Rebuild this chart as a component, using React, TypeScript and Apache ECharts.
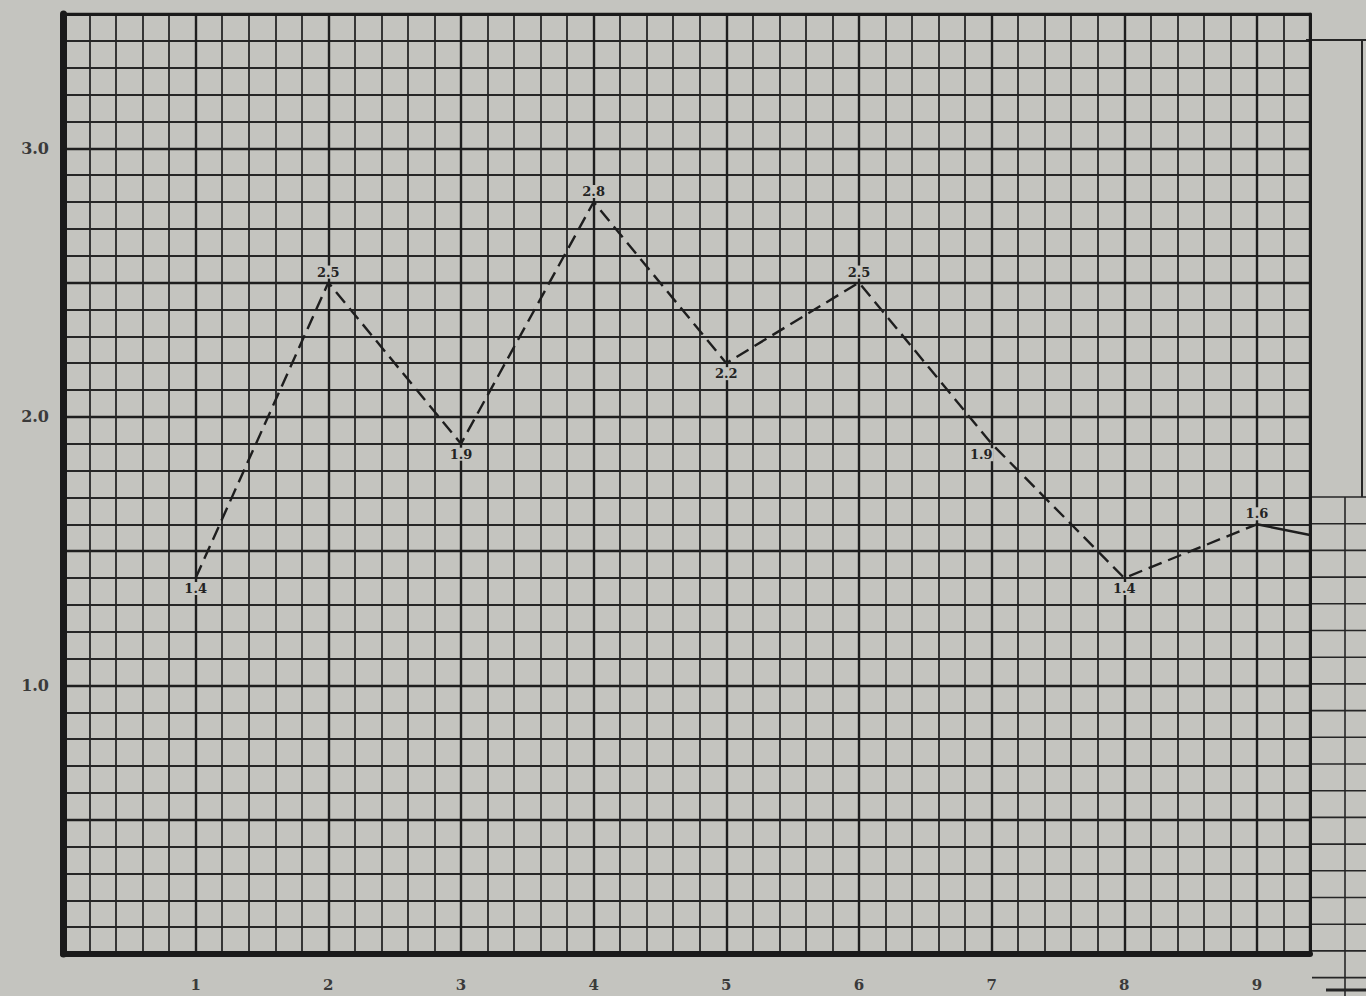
import React, { useEffect, useRef } from "react";
import * as echarts from "echarts";

const xValues = [1, 2, 3, 4, 5, 6, 7, 8, 9];
const yValues = [1.4, 2.5, 1.9, 2.8, 2.2, 2.5, 1.9, 1.4, 1.6];
const pointLabels = ["1.4", "2.5", "1.9", "2.8", "2.2", "2.5", "1.9", "1.4", "1.6"];
const labelSides = ["bottom", "top", "bottom", "top", "bottom", "top", "left", "bottom", "top"];
const tailX = [9, 9.4];
const tailY = [1.6, 1.56];
const xTickValues = [1, 2, 3, 4, 5, 6, 7, 8, 9];
const xTickLabels = ["1", "2", "3", "4", "5", "6", "7", "8", "9"];
const yTickValues = [1, 2, 3];
const yTickLabels = ["1.0", "2.0", "3.0"];

const PAPER = "#c4c4bf";
const INK = "#262626";
const FONT = "'DejaVu Serif', 'Liberation Serif', serif";

function pick(values: number[], labels: string[], v: number) {
  const i = values.findIndex((t) => Math.abs(t - v) < 1e-6);
  return i >= 0 ? labels[i] : "";
}

export default function App() {
  const ref = useRef<HTMLDivElement>(null);
  useEffect(() => {
    if (!ref.current) return;
    const chart = echarts.init(ref.current, undefined, { renderer: "svg" });

    const mainData = xValues.map((x, i) => {
      const side = labelSides[i];
      const label: any = {
        show: true,
        formatter: pointLabels[i],
        position: side,
        distance: 4,
      };
      if (side === "left") {
        label.offset = [6, 11];
      }
      return { value: [x, yValues[i]], label };
    });

    const deco: any[] = [];
    deco.push({ type: "line", shape: { x1: 1306, y1: 40, x2: 1366, y2: 40 }, style: { stroke: INK, lineWidth: 2 } });
    deco.push({ type: "line", shape: { x1: 1362, y1: 40, x2: 1362, y2: 497 }, style: { stroke: INK, lineWidth: 2 } });
    deco.push({ type: "line", shape: { x1: 1345, y1: 497, x2: 1345, y2: 996 }, style: { stroke: INK, lineWidth: 1.6 } });
    for (let k = 0; k < 19; k++) {
      const y = 497 + k * 26.7;
      deco.push({ type: "line", shape: { x1: 1312, y1: y, x2: 1366, y2: y }, style: { stroke: INK, lineWidth: 1.6 } });
    }
    deco.push({ type: "line", shape: { x1: 1326, y1: 990, x2: 1366, y2: 990 }, style: { stroke: INK, lineWidth: 3 } });

    chart.setOption({
      animation: false,
      backgroundColor: PAPER,
      grid: { left: 63, right: 56, top: 14, bottom: 42, containLabel: false, outerBoundsMode: "none" },
      xAxis: [
        {
          type: "value",
          min: 0,
          max: 9.4,
          interval: 0.2,
          position: "bottom",
          axisLine: { show: true, onZero: false, lineStyle: { color: "#1a1a1a", width: 6 } },
          axisTick: { show: false },
          axisLabel: { show: false },
          splitLine: { show: true, lineStyle: { color: INK, width: 1.8 } },
        },
        {
          type: "value",
          min: 0,
          max: 9.4,
          interval: 1,
          position: "bottom",
          axisLine: { show: false },
          axisTick: { show: false },
          axisLabel: {
            show: true,
            margin: 23,
            color: "#3a3a3a",
            fontFamily: FONT,
            fontWeight: "bold",
            fontSize: 15,
            showMaxLabel: false,
            formatter: (v: number) => pick(xTickValues, xTickLabels, v),
          },
          splitLine: { show: true, lineStyle: { color: "#1e1e1e", width: 2.4 } },
        },
        {
          type: "value",
          min: 0,
          max: 9.4,
          position: "top",
          axisLine: { show: true, onZero: false, lineStyle: { color: "#1a1a1a", width: 3 } },
          axisTick: { show: false },
          axisLabel: { show: false },
          splitLine: { show: false },
        },
      ],
      yAxis: [
        {
          type: "value",
          min: 0,
          max: 3.5,
          interval: 0.1,
          position: "left",
          axisLine: { show: true, onZero: false, lineStyle: { color: "#1a1a1a", width: 7 } },
          axisTick: { show: false },
          axisLabel: { show: false },
          splitLine: { show: true, lineStyle: { color: INK, width: 1.8 } },
        },
        {
          type: "value",
          min: 0,
          max: 3.5,
          interval: 0.5,
          position: "left",
          axisLine: { show: false },
          axisTick: { show: false },
          axisLabel: {
            show: true,
            margin: 14,
            color: "#3a3a3a",
            fontFamily: FONT,
            fontWeight: "bold",
            fontSize: 16,
            formatter: (v: number) => pick(yTickValues, yTickLabels, v),
          },
          splitLine: { show: true, lineStyle: { color: "#1e1e1e", width: 2.4 } },
        },
        {
          type: "value",
          min: 0,
          max: 3.5,
          position: "right",
          axisLine: { show: true, onZero: false, lineStyle: { color: "#1a1a1a", width: 3 } },
          axisTick: { show: false },
          axisLabel: { show: false },
          splitLine: { show: false },
        },
      ],
      series: [
        {
          type: "line",
          xAxisIndex: 0,
          yAxisIndex: 0,
          data: mainData,
          symbol: "circle",
          symbolSize: 0,
          showSymbol: true,
          itemStyle: { color: "#1e1e1e" },
          lineStyle: { color: "#1e1e1e", width: 2.4, type: [14, 7] },
          label: {
            color: "#222",
            fontFamily: FONT,
            fontWeight: "bold",
            fontSize: 13,
            backgroundColor: PAPER,
            padding: [0, 1],
          },
          z: 5,
        },
        {
          type: "line",
          xAxisIndex: 0,
          yAxisIndex: 0,
          data: tailX.map((x, i) => [x, tailY[i]]),
          symbol: "none",
          lineStyle: { color: "#1e1e1e", width: 2.4 },
          z: 5,
        },
      ],
      graphic: deco,
    });
    return () => chart.dispose();
  }, []);

  return (
    <div
      ref={ref}
      style={{ position: "fixed", left: 0, top: 0, width: 1366, height: 996, background: PAPER }}
    />
  );
}
